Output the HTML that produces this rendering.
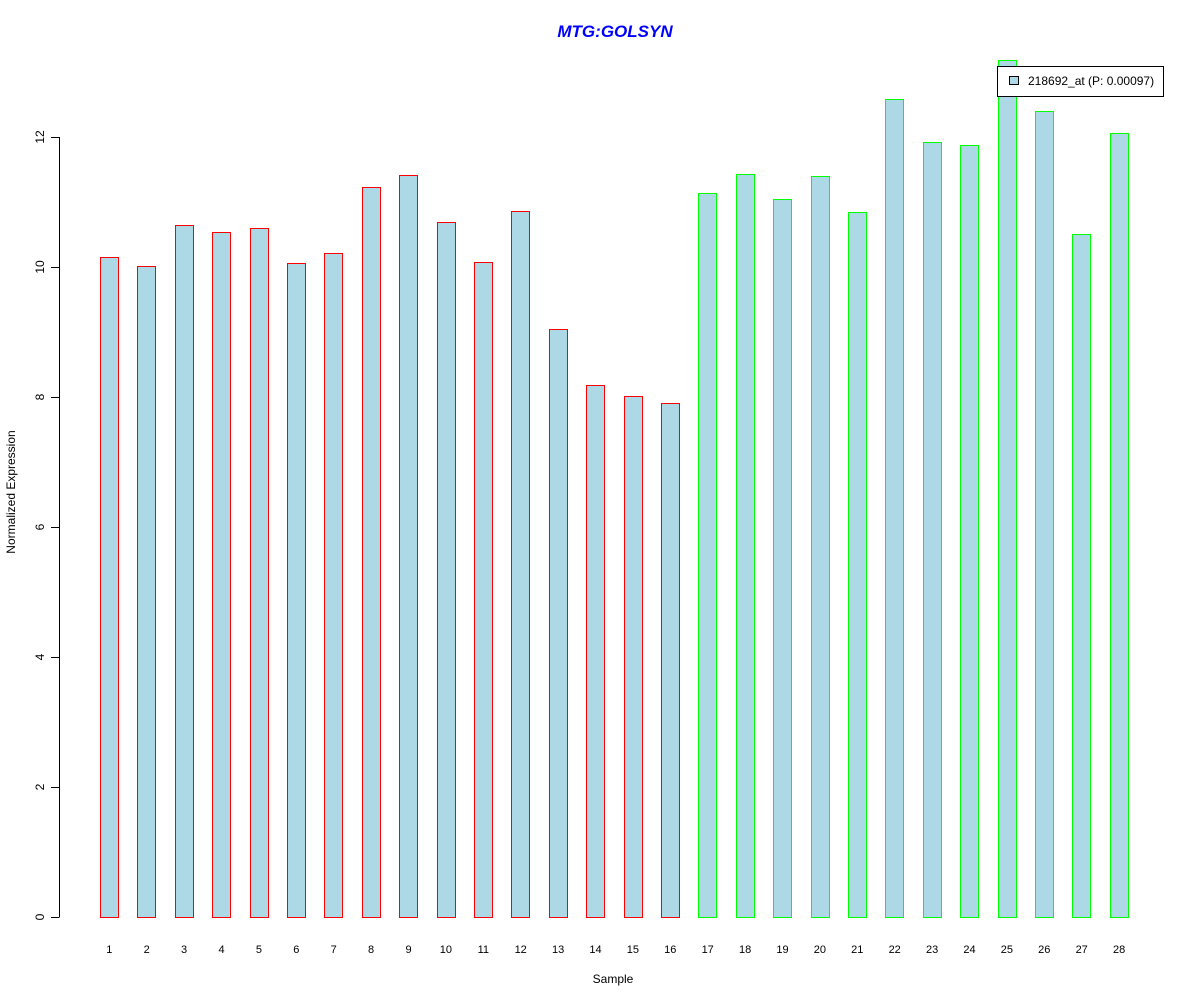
<!DOCTYPE html>
<html><head><style>body{margin:0;background:#fff}</style></head><body>
<svg width="1200" height="1000" xmlns="http://www.w3.org/2000/svg" font-family="Liberation Sans, Arial, sans-serif">
<rect width="1200" height="1000" fill="#fff"/>
<text x="615" y="37" text-anchor="middle" font-size="17" font-weight="bold" font-style="italic" fill="#0000ff">MTG:GOLSYN</text>
<g stroke="#000" stroke-width="1">
<line x1="59.5" y1="137" x2="59.5" y2="917"/>
<line x1="51" y1="917.5" x2="59.5" y2="917.5"/>
<line x1="51" y1="787.5" x2="59.5" y2="787.5"/>
<line x1="51" y1="657.5" x2="59.5" y2="657.5"/>
<line x1="51" y1="527.5" x2="59.5" y2="527.5"/>
<line x1="51" y1="397.5" x2="59.5" y2="397.5"/>
<line x1="51" y1="267.5" x2="59.5" y2="267.5"/>
<line x1="51" y1="137.5" x2="59.5" y2="137.5"/>
</g>
<g font-size="12" text-anchor="middle" fill="#000">
<text transform="translate(44,917) rotate(-90)">0</text>
<text transform="translate(44,787) rotate(-90)">2</text>
<text transform="translate(44,657) rotate(-90)">4</text>
<text transform="translate(44,527) rotate(-90)">6</text>
<text transform="translate(44,397) rotate(-90)">8</text>
<text transform="translate(44,267) rotate(-90)">10</text>
<text transform="translate(44,137) rotate(-90)">12</text>
<text transform="translate(15,492) rotate(-90)">Normalized Expression</text>
<text x="613" y="983">Sample</text>
</g>
<g fill="#add8e6" stroke="#ff0000">
<rect x="100.5" y="257.5" width="18" height="660"/>
<rect x="137.5" y="266.5" width="18" height="651"/>
<rect x="175.5" y="225.5" width="18" height="692"/>
<rect x="212.5" y="232.5" width="18" height="685"/>
<rect x="250.5" y="228.5" width="18" height="689"/>
<rect x="287.5" y="263.5" width="18" height="654"/>
<rect x="324.5" y="253.5" width="18" height="664"/>
<rect x="362.5" y="187.5" width="18" height="730"/>
<rect x="399.5" y="175.5" width="18" height="742"/>
<rect x="437.5" y="222.5" width="18" height="695"/>
<rect x="474.5" y="262.5" width="18" height="655"/>
<rect x="511.5" y="211.5" width="18" height="706"/>
<rect x="549.5" y="329.5" width="18" height="588"/>
<rect x="586.5" y="385.5" width="18" height="532"/>
<rect x="624.5" y="396.5" width="18" height="521"/>
<rect x="661.5" y="403.5" width="18" height="514"/>
</g>
<g fill="#add8e6" stroke="#00ff00">
<rect x="698.5" y="193.5" width="18" height="724"/>
<rect x="736.5" y="174.5" width="18" height="743"/>
<rect x="773.5" y="199.5" width="18" height="718"/>
<rect x="811.5" y="176.5" width="18" height="741"/>
<rect x="848.5" y="212.5" width="18" height="705"/>
<rect x="885.5" y="99.5" width="18" height="818"/>
<rect x="923.5" y="142.5" width="18" height="775"/>
<rect x="960.5" y="145.5" width="18" height="772"/>
<rect x="998.5" y="60.5" width="18" height="857"/>
<rect x="1035.5" y="111.5" width="18" height="806"/>
<rect x="1072.5" y="234.5" width="18" height="683"/>
<rect x="1110.5" y="133.5" width="18" height="784"/>
</g>
<g font-size="11" text-anchor="middle" fill="#000">
<text x="109.3" y="953">1</text><text x="146.7" y="953">2</text><text x="184.1" y="953">3</text><text x="221.5" y="953">4</text>
<text x="258.9" y="953">5</text><text x="296.3" y="953">6</text><text x="333.7" y="953">7</text><text x="371.1" y="953">8</text>
<text x="408.5" y="953">9</text><text x="445.9" y="953">10</text><text x="483.3" y="953">11</text><text x="520.7" y="953">12</text>
<text x="558.1" y="953">13</text><text x="595.5" y="953">14</text><text x="632.9" y="953">15</text><text x="670.3" y="953">16</text>
<text x="707.7" y="953">17</text><text x="745.1" y="953">18</text><text x="782.5" y="953">19</text><text x="819.9" y="953">20</text>
<text x="857.3" y="953">21</text><text x="894.7" y="953">22</text><text x="932.1" y="953">23</text><text x="969.5" y="953">24</text>
<text x="1006.9" y="953">25</text><text x="1044.3" y="953">26</text><text x="1081.7" y="953">27</text><text x="1119.1" y="953">28</text>
</g>
<rect x="997.5" y="66.5" width="166" height="30" fill="#fff" stroke="#000"/>
<rect x="1009.5" y="76.5" width="9" height="8" fill="#add8e6" stroke="#000"/>
<text x="1028" y="85" font-size="12">218692_at (P: 0.00097)</text>
</svg>
</body></html>
